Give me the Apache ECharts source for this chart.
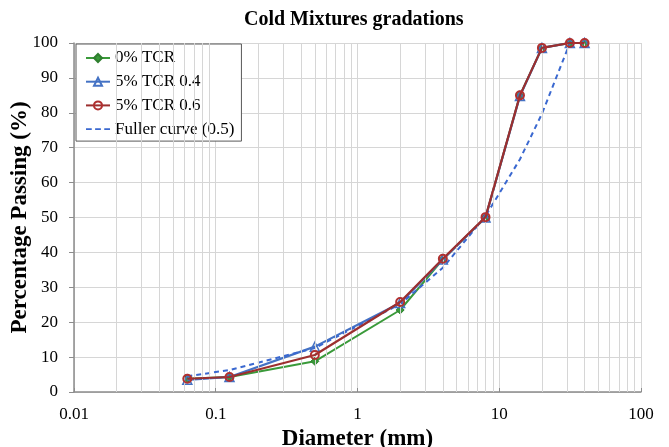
<!DOCTYPE html>
<html>
<head>
<meta charset="utf-8">
<script src="https://cdn.jsdelivr.net/npm/echarts@6/dist/echarts.min.js"></script>
<style>
html,body{margin:0;padding:0;background:#fff;}
#chart{width:669px;height:447px;}
</style>
</head>
<body>
<div id="chart"></div>
<script>
// Sieve sizes (mm)
var sieves = [0.063, 0.125, 0.5, 2, 4, 8, 14, 20, 31.5, 40];
var tcr0 = [3.8, 4.3, 8.8, 23.5, 38, 50, 85, 98.6, 100, 100];
var tcr5_04 = [3.5, 4.3, 13, 25.5, 38, 50, 84.8, 98.6, 100, 100];
var tcr5_06 = [3.8, 4.3, 10.6, 25.8, 38.2, 50.1, 85, 98.6, 100, 100];
var fullerSieves = [0.063, 0.125, 0.5, 2, 4, 8, 14, 20, 31.5];
var fuller = [4.5, 6.3, 12.6, 25.2, 35.6, 50.4, 66.7, 79.7, 100];
var seriesNames = ['0% TCR', '5% TCR 0.4', '5% TCR 0.6', 'Fuller curve (0.5)'];
var xTickLabels = ['0.01', '0.1', '1', '10', '100'];
var decades = [0.01, 0.1, 1, 10];
var minorMultipliers = [2, 3, 4, 5, 6, 7, 8, 9];

function pairs(xs, ys) { return xs.map(function (x, i) { return [x, ys[i]]; }); }

var minorLines = [];
decades.forEach(function (d) {
  minorMultipliers.forEach(function (m) { minorLines.push({ xAxis: +(d * m).toPrecision(6) }); });
});

var serif = '"Liberation Serif", "DejaVu Serif", serif';
var gridColor = '#d6d6d6';
var axisColor = '#8c8c8c';
var dashIcon = 'path://M0,0H6V2H0Z M9.5,0H15.5V2H9.5Z M19,0H25V2H19Z';

var chart = echarts.init(document.getElementById('chart'), null, { renderer: 'canvas' });
chart.setOption({
  animation: false,
  backgroundColor: '#fff',
  title: {
    text: 'Cold Mixtures gradations',
    left: 239, top: 5,
    textStyle: { fontFamily: serif, fontWeight: 'bold', fontSize: 20, color: '#000' }
  },
  grid: { left: 74, right: 28, top: 43, bottom: 55, containLabel: false, outerBoundsMode: 'none' },
  legend: {
    data: [
      { name: seriesNames[0] },
      { name: seriesNames[1] },
      { name: seriesNames[2] },
      { name: seriesNames[3], icon: dashIcon, itemStyle: { color: '#3a68d0' } }
    ],
    orient: 'vertical',
    left: 76, top: 44,
    padding: [5, 7, 3, 9],
    itemWidth: 24, itemHeight: 10, itemGap: 5.7,
    symbolKeepAspect: true,
    borderColor: '#595959', borderWidth: 1,
    backgroundColor: '#fff',
    textStyle: { fontFamily: serif, fontSize: 17, color: '#000', lineHeight: 18 }
  },
  xAxis: {
    type: 'log', logBase: 10, min: 0.01, max: 100,
    name: 'Diameter (mm)', nameLocation: 'middle', nameGap: 35,
    nameTextStyle: { fontFamily: serif, fontWeight: 'bold', fontSize: 23, color: '#000' },
    axisLine: { lineStyle: { color: axisColor, width: 1.5 } },
    axisTick: { show: true, inside: true, length: 4, lineStyle: { color: axisColor } },
    axisLabel: {
      fontFamily: serif, fontSize: 17, color: '#000', margin: 14,
      formatter: function (v) {
        var s = String(+(+v).toPrecision(6));
        return xTickLabels.indexOf(s) >= 0 ? s : '';
      }
    },
    splitLine: { show: true, lineStyle: { color: gridColor, width: 1 } }
  },
  yAxis: {
    type: 'value', min: 0, max: 100, interval: 10,
    name: 'Percentage Passing (%)', nameLocation: 'middle', nameGap: 42,
    nameMoveOverlap: false,
    nameTextStyle: { fontFamily: serif, fontWeight: 'bold', fontSize: 23, color: '#000' },
    axisLine: { show: true, lineStyle: { color: axisColor, width: 1.5 } },
    axisTick: { show: true, inside: false, length: 5, lineStyle: { color: axisColor } },
    axisLabel: { fontFamily: serif, fontSize: 17, color: '#000', margin: 16 },
    splitLine: { show: true, lineStyle: { color: gridColor, width: 1 } }
  },
  series: [
    {
      name: 'minor-grid', type: 'line', data: [], z: 1, silent: true,
      markLine: {
        silent: true, symbol: ['none', 'none'], label: { show: false },
        lineStyle: { color: gridColor, type: 'solid', width: 1 },
        emphasis: { disabled: true },
        animation: false,
        data: minorLines
      }
    },
    {
      name: seriesNames[0], type: 'line', z: 3,
      data: pairs(sieves, tcr0),
      symbol: 'diamond', symbolSize: 8,
      lineStyle: { color: '#3a9a3a', width: 2 },
      itemStyle: { color: '#3a9a3a', borderColor: '#2f7f2f', borderWidth: 1 }
    },
    {
      name: seriesNames[1], type: 'line', z: 4,
      data: pairs(sieves, tcr5_04),
      symbol: 'triangle', symbolSize: 9,
      lineStyle: { color: '#4472c4', width: 2.2 },
      itemStyle: { color: 'rgba(255,255,255,0)', borderColor: '#4472c4', borderWidth: 1.5 }
    },
    {
      name: seriesNames[2], type: 'line', z: 5,
      data: pairs(sieves, tcr5_06),
      symbol: 'circle', symbolSize: 8,
      lineStyle: { color: '#9c2f2f', width: 2.2 },
      itemStyle: { color: 'rgba(255,255,255,0)', borderColor: '#b03030', borderWidth: 2 }
    },
    {
      name: seriesNames[3], type: 'line', z: 4,
      data: pairs(fullerSieves, fuller),
      symbol: 'none', showSymbol: false,
      lineStyle: { color: '#3a68d0', width: 2, type: [5, 4] },
      itemStyle: { color: '#3a68d0' }
    }
  ]
});
</script>
</body>
</html>
